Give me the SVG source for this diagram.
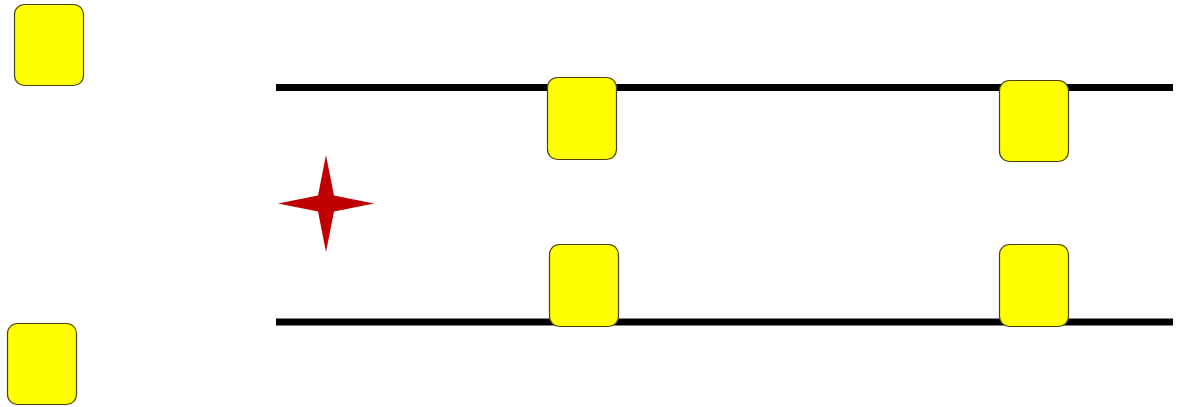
<svg xmlns="http://www.w3.org/2000/svg" width="1178" height="407" viewBox="0 0 1178 407">
<style>
.box{fill:#ffff00;stroke:#4a4210;stroke-width:1.2}
.line{stroke:#000;stroke-width:7;fill:none}
</style>
<rect width="1178" height="407" fill="#fff"/>
<g id="connectors">
<line class="line" x1="276" y1="87.5" x2="1173" y2="87.5"/>
<line class="line" x1="276" y1="322" x2="1173" y2="322"/>
</g>
<g id="star">
<polygon points="326,155 334,195.5 374,203.5 334,211.5 326,252 318,211.5 278,203.5 318,195.5" fill="#c00000"/>
</g>
<g id="n1"><rect class="box" x="14.5" y="4.5" width="69" height="81" rx="10"/></g>
<g id="n2"><rect class="box" x="7.5" y="323.5" width="69" height="81" rx="10"/></g>
<g id="n3"><rect class="box" x="547.5" y="77.5" width="69" height="82" rx="10"/></g>
<g id="n4"><rect class="box" x="549.5" y="244.5" width="69" height="82" rx="10"/></g>
<g id="n5"><rect class="box" x="999.5" y="80.5" width="69" height="81" rx="10"/></g>
<g id="n6"><rect class="box" x="999.5" y="244.5" width="69" height="82" rx="10"/></g>
</svg>
